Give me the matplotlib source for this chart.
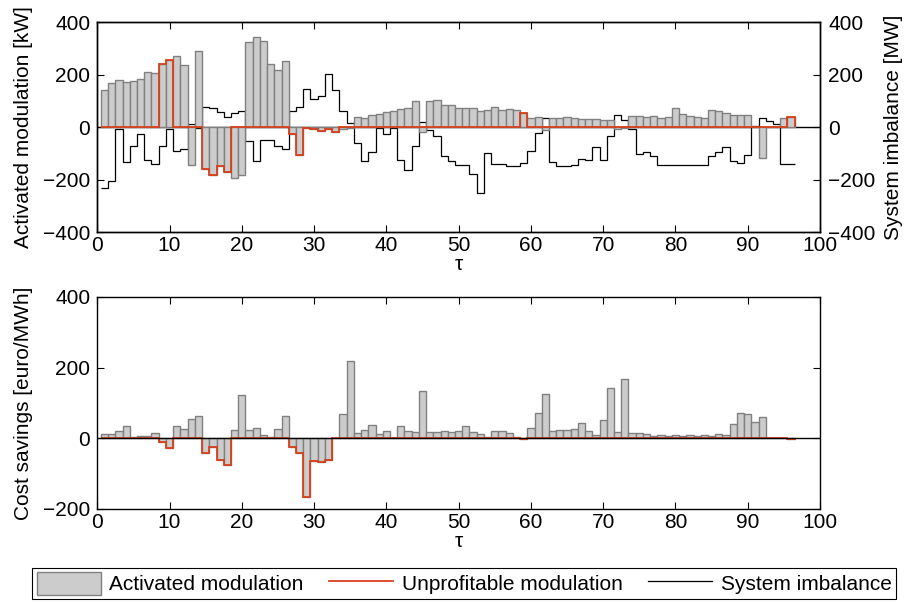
import numpy as np
import matplotlib
matplotlib.use('Agg')
import matplotlib.pyplot as plt
from matplotlib.patches import Patch
from matplotlib.lines import Line2D

plt.rcParams['font.family'] = ['Liberation Sans', 'DejaVu Sans']
plt.rcParams['font.size'] = 15
plt.rcParams['axes.linewidth'] = 1.0

# ---------------- data ----------------
tau = np.arange(1, 97)

# activated modulation per interval [kW]
activated = np.array([
    140, 167, 181, 170, 177, 184, 209, 207, 241, 254,
    272, 235, -144, 291, -159, -181, -147, -171, -194, -184,
    325, 342, 327, 240, 219, 252, -25, -106, -3, -8,
    -15, -8, -20, -9, -5, 37, 34, 44, 50, 59,
    61, 67, 71, 100, -19, 98, 102, 85, 83, 72,
    72, 71, 61, 65, 75, 63, 69, 65, 54, 36,
    39, -10, 34, 34, 37, 34, 31, 31, 30, 27,
    26, -6, -3, 41, 41, 37, 42, 36, 39, 71,
    50, 41, 39, 36, 65, 62, 55, 46, 46, 46,
    0, -118, 0, 0, 35, 37])

# system imbalance per interval [MW]
imbalance = np.array([
    -234, -204, -9, -134, -72, -26, -126, -140, -71, -9,
    -90, -84, 12, -4, 76, 71, 56, 40, 55, 61,
    -52, -131, -51, -51, -72, -84, 62, 77, 144, 106,
    117, 202, 140, 62, 16, -60, -131, -96, -2, -27,
    -3, -127, -165, -72, 20, -10, -34, -112, -131, -146,
    -146, -180, -252, -100, -140, -142, -147, -147, -137, -90,
    -22, 34, -134, -147, -147, -144, -120, -127, -76, -127,
    -36, 47, 25, -6, -104, -94, -110, -146, -146, -146,
    -146, -146, -146, -146, -112, -97, -77, -131, -137, -105,
    2, 35, 22, 12, -141, -141])

# cost savings per interval [euro/MWh]
savings = np.array([
    13, 11, 20, 34, 5, 6, 7, 14, -10, -26,
    34, 26, 56, 62, -41, -25, -62, -75, 24, 122,
    23, 30, 8, 5, 26, 62, -25, -42, -165, -63,
    -67, -62, 0, 68, 220, 14, 24, 39, 11, 20,
    2, 34, 20, 18, 135, 17, 17, 20, 18, 22,
    34, 17, 11, 3, 21, 21, 16, 4, -2, 28,
    72, 125, 21, 23, 23, 25, 43, 22, 8, 51,
    142, 17, 167, 14, 14, 13, 7, 8, 7, 10,
    6, 8, 7, 9, 6, 11, 9, 40, 71, 70,
    45, 59, 0, 0, 0, -1])

# intervals where the modulation was unprofitable
unprofitable = [9, 10, 15, 16, 17, 18, 27, 28, 29, 30, 31, 32, 33, 59, 96]

mask = np.isin(tau, unprofitable)
edges = np.append(tau - 0.5, tau[-1] + 0.5)

bar_face = '#cccccc'
bar_edge = '#808080'
red = '#d8401c'

fig = plt.figure(figsize=(9.05, 6.02), dpi=100)

# ---------------- top panel ----------------
ax1 = fig.add_axes([0.1075, 0.6146, 0.7986, 0.3488])
ax2 = ax1.twinx()
ax1.set_zorder(2)
ax2.set_zorder(1)
ax1.patch.set_visible(False)

ax1.axhline(0, color='k', lw=1.0, zorder=1)
ax1.bar(tau, activated, width=1.0, color=bar_face, edgecolor=bar_edge,
        linewidth=1.0, zorder=2)
ax1.stairs(np.where(mask, activated, 0), edges, baseline=0, color=red,
           lw=1.3, zorder=3)
ax2.stairs(imbalance, edges, baseline=None, color='k', lw=0.9)

ax1.set_xlim(0, 100)
ax1.set_ylim(-400, 400)
ax2.set_ylim(-400, 400)
ax1.set_xticks(np.arange(0, 101, 10))
ax1.set_yticks([-400, -200, 0, 200, 400])
ax2.set_yticks([-400, -200, 0, 200, 400])
ax1.tick_params(axis='x', direction='in', top=True, length=5, pad=3)
ax1.tick_params(axis='y', direction='in', right=False, length=5, pad=5)
ax2.tick_params(axis='y', direction='in', length=5, pad=6)
ax1.set_xlabel('τ', labelpad=0)
ax1.set_ylabel('Activated modulation [kW]', labelpad=7)
ax2.set_ylabel('System imbalance [MW]', labelpad=6)

# ---------------- bottom panel ----------------
ax3 = fig.add_axes([0.1075, 0.1545, 0.7986, 0.3522])
ax3.bar(tau, savings, width=1.0, color=bar_face, edgecolor=bar_edge,
        linewidth=1.0, zorder=2)
ax3.stairs(np.where(mask, savings, 0), edges, baseline=0, color=red,
           lw=1.3, zorder=3)
ax3.axhline(0, color='k', lw=1.0, zorder=4)

ax3.set_xlim(0, 100)
ax3.set_ylim(-200, 400)
ax3.set_xticks(np.arange(0, 101, 10))
ax3.set_yticks([-200, 0, 200, 400])
ax3.tick_params(axis='x', direction='in', top=True, length=5, pad=3)
ax3.tick_params(axis='y', direction='in', right=True, length=5, pad=5)
ax3.set_xlabel('τ', labelpad=0)
ax3.set_ylabel('Cost savings [euro/MWh]', labelpad=7)

# ---------------- legend ----------------
handles = [Patch(facecolor=bar_face, edgecolor=bar_edge, linewidth=1.0),
           Line2D([], [], color=red, lw=1.3),
           Line2D([], [], color='k', lw=0.9)]
labels = ['Activated modulation', 'Unprofitable modulation', 'System imbalance']
leg = fig.legend(handles, labels, ncol=3, loc='lower center',
                 bbox_to_anchor=(0.5127, 0.005), frameon=True, fancybox=False,
                 edgecolor='k', framealpha=1, handlelength=3.1,
                 handleheight=1.3, handletextpad=0.4, columnspacing=1.2,
                 borderpad=0.2, borderaxespad=0)
leg.get_frame().set_linewidth(0.8)

fig.savefig('out.png', dpi=100)
